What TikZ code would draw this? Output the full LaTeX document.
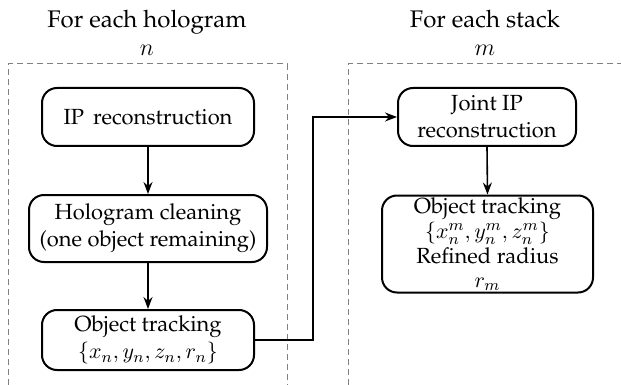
\documentclass[tikz,border=0pt,11pt]{standalone}
\usepackage[T1]{fontenc}
\usepackage{palatino}
\usetikzlibrary{arrows.meta}

\begin{document}
\begin{tikzpicture}[x=0.5pt, y=-0.5pt,
        stage/.style={draw=black, line width=1pt, rounded corners=7.5pt, align=center, inner sep=0pt},
        flow/.style={-{Stealth[length=6pt, width=4.5pt, inset=2pt]}, line width=0.8pt},
        frame/.style={gray, dash pattern=on 3pt off 2pt, line width=0.5pt},
        heading/.style={align=center, font=\large}]
        \useasboundingbox (0, 0) rectangle (621, 385);
        % column frames
        \draw[frame] (8, 385) -- (8, 64) -- (287, 64) -- (287, 385);
        \draw[frame] (348, 385) -- (348, 64) -- (621, 64);
        \node[heading] (hholo) at (147, 33) {For each hologram\\$n$};
        \node[heading] (hstack) at (485, 33) {For each stack\\$m$};
        % per hologram
        \node[stage, minimum width=106pt, minimum height=29pt] (iprec) at (148, 117) {IP\, reconstruction};
        \node[stage, minimum width=119pt, minimum height=33.5pt] (clean) at (148, 228.5) {Hologram cleaning\\(one object remaining)};
        \node[stage, minimum width=106pt, minimum height=30pt] (track) at (148, 340) {Object tracking\\$\{x_n, y_n, z_n, r_n\}$};
        % per stack
        \node[stage, minimum width=105.5pt, minimum height=48.5pt] (refine) at (487.5, 244) {Object tracking\\[-1pt]$\{x_n^m, y_n^m, z_n^m\}$\\[-1pt]Refined radius\\[-2pt]$r_m$};
        \node[stage, minimum width=89pt, minimum height=29pt] (joint) at (487, 117) {Joint IP\\reconstruction};
        \draw[flow] (iprec.south) -- (clean.north);
        \draw[flow] (clean.south) -- (track.north);
        \draw[flow] (track.east) -- ++(58, 0) |- (joint.west);
        \draw[flow] (joint.south) -- (refine.north);
    \end{tikzpicture}
\end{document}
